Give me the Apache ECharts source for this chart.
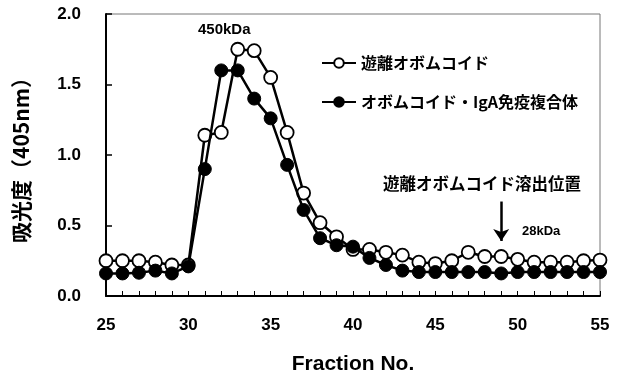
<!DOCTYPE html>
<html><head><meta charset="utf-8">
<script src="https://cdn.jsdelivr.net/npm/echarts@6/dist/echarts.min.js"></script>
<style>html,body{margin:0;padding:0;background:#fff}#c{width:622px;height:381px}</style>
</head><body><div id="c"></div>
<script>
const fractions = [25,26,27,28,29,30,31,32,33,34,35,36,37,38,39,40,41,42,43,44,45,46,47,48,49,50,51,52,53,54,55];
const freeOvomucoid = [0.25,0.25,0.25,0.24,0.22,0.22,1.14,1.16,1.75,1.74,1.55,1.16,0.73,0.52,0.42,0.33,0.33,0.31,0.29,0.24,0.23,0.25,0.31,0.28,0.28,0.26,0.24,0.24,0.24,0.25,0.255];
const complexIgA = [0.16,0.16,0.165,0.18,0.16,0.21,0.9,1.6,1.6,1.4,1.26,0.93,0.61,0.41,0.36,0.35,0.27,0.22,0.18,0.17,0.17,0.17,0.17,0.17,0.16,0.17,0.17,0.17,0.17,0.17,0.17];
const seriesNames = ['遊離オボムコイド','オボムコイド・IgA免疫複合体'];
const yTicks = [0,0.5,1.0,1.5,2.0];
const elutionFraction = 49;

const jp = '"Noto Sans CJK JP", sans-serif';
const lat = '"Liberation Sans", Arial, sans-serif';
const chart = echarts.init(document.getElementById('c'));
chart.setOption({
  animation:false,
  grid:{left:106,right:22,top:14,bottom:85,show:true,borderColor:'#777',borderWidth:1},
  legend:{
    orient:'vertical',left:316,top:50,itemGap:23,itemWidth:34,itemHeight:12,
    textStyle:{fontFamily:jp,fontWeight:'bold',fontSize:16,color:'#000'},
    data:seriesNames
  },
  xAxis:{
    type:'value',min:25,max:55,interval:1,
    axisLine:{lineStyle:{color:'#000',width:2}},
    axisTick:{inside:true,length:5,lineStyle:{color:'#000',width:1}},
    splitLine:{show:false},
    axisLabel:{margin:21,fontFamily:lat,fontWeight:'bold',fontSize:17,color:'#000',
      formatter:v=> (v%5===0? String(v):'')},
    name:'Fraction No.',nameLocation:'middle',nameGap:58,
    nameTextStyle:{fontFamily:lat,fontWeight:'bold',fontSize:21,color:'#000'}
  },
  yAxis:{
    type:'value',min:0,max:2,interval:0.5,
    axisLine:{show:true,lineStyle:{color:'#000',width:2}},
    axisTick:{show:true,inside:true,length:6,lineStyle:{color:'#000',width:1.5}},
    splitLine:{show:false},
    axisLabel:{margin:25,fontFamily:lat,fontWeight:'bold',fontSize:17,color:'#000',
      formatter:v=>v.toFixed(1)},
    name:'吸光度（405nm）',nameLocation:'middle',nameGap:74,nameRotate:90,
    nameTextStyle:{fontFamily:jp,fontWeight:'bold',fontSize:21,color:'#000'}
  },
  series:[
    {name:seriesNames[0],type:'line',data:fractions.map((f,i)=>[f,freeOvomucoid[i]]),
     symbol:'circle',symbolSize:13,z:2,
     lineStyle:{color:'#000',width:2.5},
     itemStyle:{color:'#fff',borderColor:'#000',borderWidth:1.8},
     markLine:{silent:true,symbol:['none','triangle'],symbolSize:[12,14],symbolRotate:180,
       lineStyle:{color:'#000',width:2.5,type:'solid'},label:{show:false},
       data:[[{coord:[elutionFraction,0.67],symbol:'none'},{coord:[elutionFraction,0.39],symbol:'arrow',symbolSize:12}]]}},
    {name:seriesNames[1],type:'line',data:fractions.map((f,i)=>[f,complexIgA[i]]),
     symbol:'circle',symbolSize:13,z:3,
     lineStyle:{color:'#000',width:2.5},
     itemStyle:{color:'#000',borderColor:'#000',borderWidth:1}}
  ],
  graphic:[
    {type:'text',left:198,top:22,style:{text:'450kDa',font:'bold 15px '+lat,fill:'#000'}},
    {type:'text',left:383,top:175,style:{text:'遊離オボムコイド溶出位置',font:'bold 16.5px '+jp,fill:'#000'}},
    {type:'text',left:522,top:225,style:{text:'28kDa',font:'bold 13px '+lat,fill:'#000'}}
  ]
});
</script></body></html>
